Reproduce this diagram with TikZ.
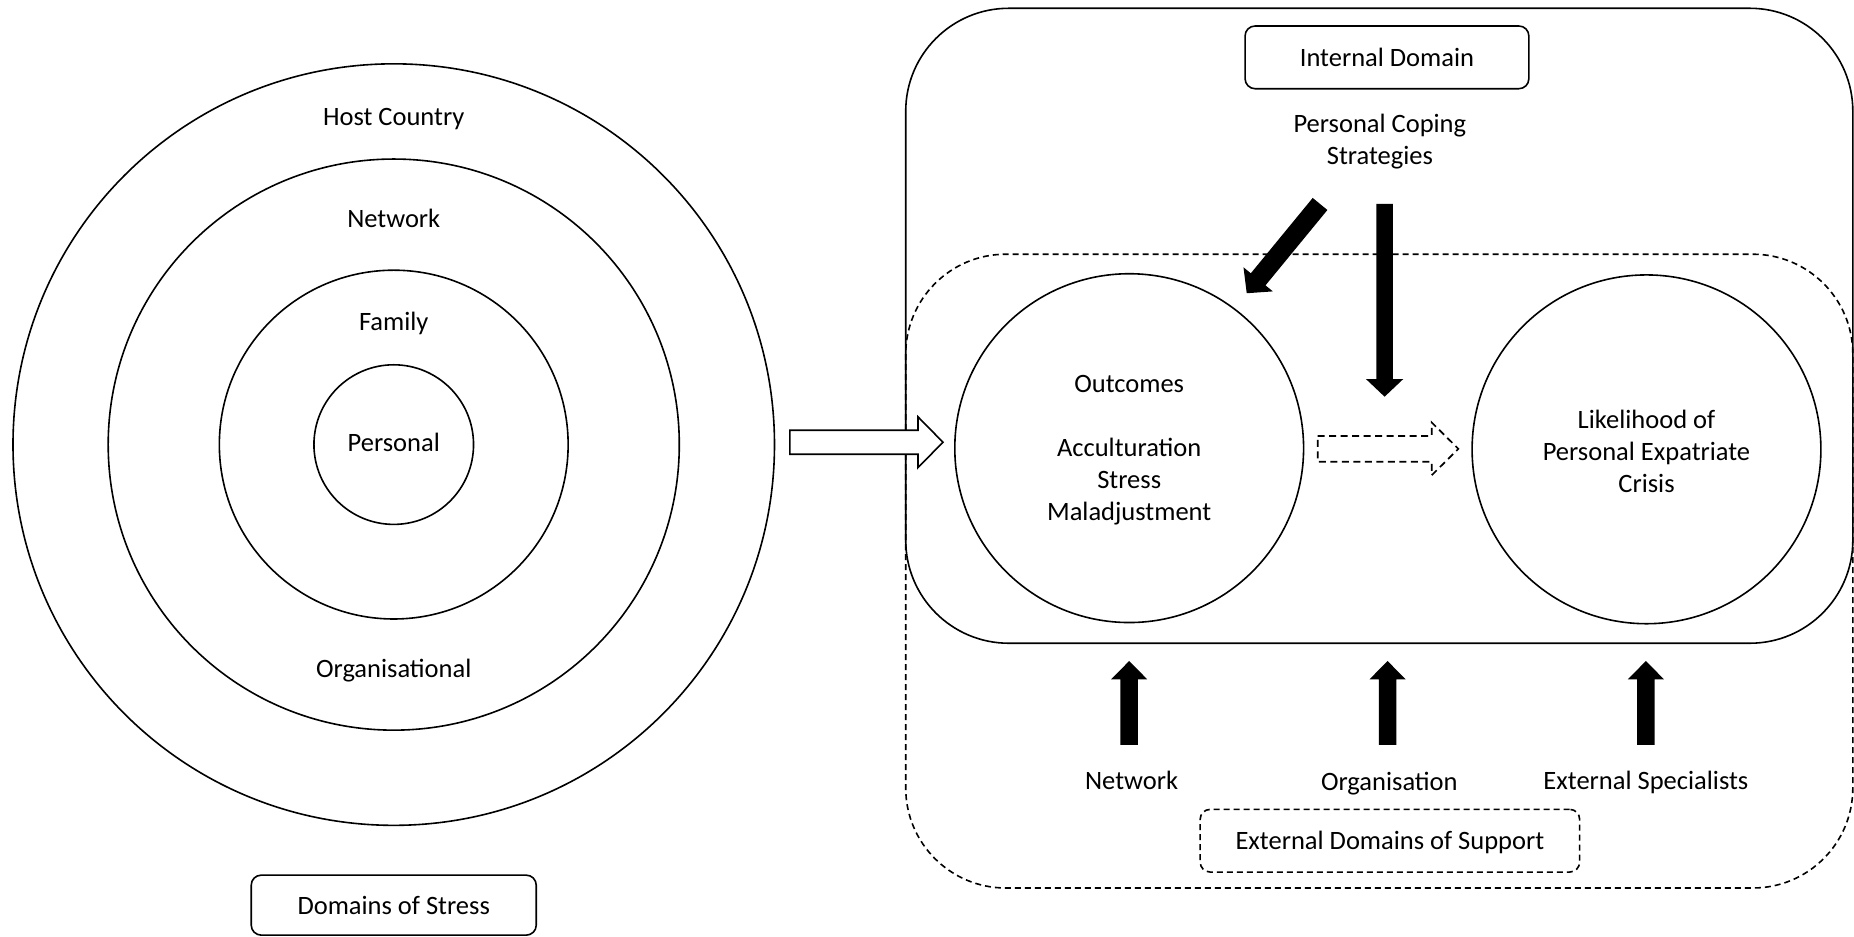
\documentclass[tikz,border=0pt]{standalone}
\usepackage{fontspec}
\setmainfont{Carlito}
\usetikzlibrary{calc}
% block arrow: [style]{tail}{tip}{shaft half}{head half}{head length}
\newcommand\blkarrow[6][fill]{%
  \path ($(#3)!#6!(#2)$) coordinate (hb);
  \path[#1] ($(#2)!#4!90:(#3)$) -- ($(hb)!#4!90:(#3)$) -- ($(hb)!#5!90:(#3)$) -- (#3)
    -- ($(hb)!#5!-90:(#3)$) -- ($(hb)!#4!-90:(#3)$) -- ($(#2)!#4!-90:(#3)$) -- cycle;}
\begin{document}
\begin{tikzpicture}[x=1.1824pt,y=-1.1824pt,
  lbl/.style={font=\fontsize{26.5}{32}\selectfont, inner sep=0pt, align=center, text depth=0pt},
  ring/.style={circle, draw, line width=1.6pt, inner sep=0pt},
  ln/.style={line width=1.6pt},
  dsh/.style={line width=1.6pt, dash pattern=on 6pt off 4pt},
  tagbox/.style={lbl, draw, rounded corners=10pt, line width=1.6pt},
  hollow/.style={draw, fill=white, line width=1.6pt, line join=miter},
  dhollow/.style={draw, line width=1.7pt, dash pattern=on 7pt off 4.5pt, line join=miter}
]
\useasboundingbox (0,0) rectangle (1568,792);

% ---- left: domains of stress ----
\node[ring, minimum size=761.5pt] (host) at (333,376) {};
\node[ring, minimum size=571.1pt] (net) at (333,376) {};
\node[ring, minimum size=348.8pt] (fam) at (333,376) {};
\node[ring, minimum size=159.6pt] (pers) at (333,376) {};
\node[lbl] (thost) at (333,99) {Host Country};
\node[lbl] (tnet) at (333,185) {Network};
\node[lbl] (tfam) at (333,272) {Family};
\node[lbl] (tpers) at (333,374) {Personal};
\node[lbl] (torg) at (333,565) {Organisational};
\node[tagbox, minimum width=285pt, minimum height=60pt] (dstress) at (333,765.5) {Domains of Stress};

% ---- right: domains ----
\draw[ln, rounded corners=103pt] (766,7) rectangle (1567,544);
\draw[dsh, rounded corners=100pt] (766,215) rectangle (1567,751);
\node[tagbox, minimum width=283.8pt, minimum height=62.7pt] (internal) at (1173,48.5) {Internal Domain};
\node[lbl] (coping) at (1167,118) {Personal Coping\\Strategies};
\node[tagbox, dsh, rounded corners=10pt, minimum width=379.5pt, minimum height=62.7pt] (extdom) at (1175.5,711) {External Domains of Support};

\node[ring, minimum size=348.8pt] (outc) at (955,379) {};
\node[lbl] (toutc) at (955,378.5) {Outcomes\\\mbox{}\\Acculturation\\Stress\\Maladjustment};
\node[ring, minimum size=348.8pt] (crisis) at (1392.5,380) {};
\node[lbl] (tcrisis) at (1392.5,381.5) {Likelihood of\\Personal Expatriate\\Crisis};

\node[lbl] (snet) at (957,660) {Network};
\node[lbl] (sorg) at (1175,661) {Organisation};
\node[lbl] (sext) at (1392,660) {External Specialists};

% ---- arrows ----
\coordinate (h1) at (668,374);   \coordinate (h2) at (797.5,374);
\blkarrow[hollow]{h1}{h2}{12pt}{25.4pt}{25pt}
\coordinate (d1) at (1114.4,379.6); \coordinate (d2) at (1233.4,379.6);
\blkarrow[dhollow]{d1}{d2}{12.9pt}{26.4pt}{26.7pt}
\coordinate (v1) at (1171,172.5); \coordinate (v2) at (1171,335.5);
\blkarrow{v1}{v2}{8.3pt}{18.7pt}{17.7pt}
\coordinate (g1) at (1116.4,172.5); \coordinate (g2) at (1054.4,248);
\blkarrow{g1}{g2}{9.5pt}{19pt}{18pt}
\coordinate (n1) at (955,630); \coordinate (n2) at (955,559);
\blkarrow{n1}{n2}{8.75pt}{18pt}{18.3pt}
\coordinate (o1) at (1173.5,630); \coordinate (o2) at (1173.5,559);
\blkarrow{o1}{o2}{8.75pt}{18pt}{18.3pt}
\coordinate (e1) at (1392,630); \coordinate (e2) at (1392,559);
\blkarrow{e1}{e2}{8.75pt}{18pt}{18.3pt}
\end{tikzpicture}
\end{document}
